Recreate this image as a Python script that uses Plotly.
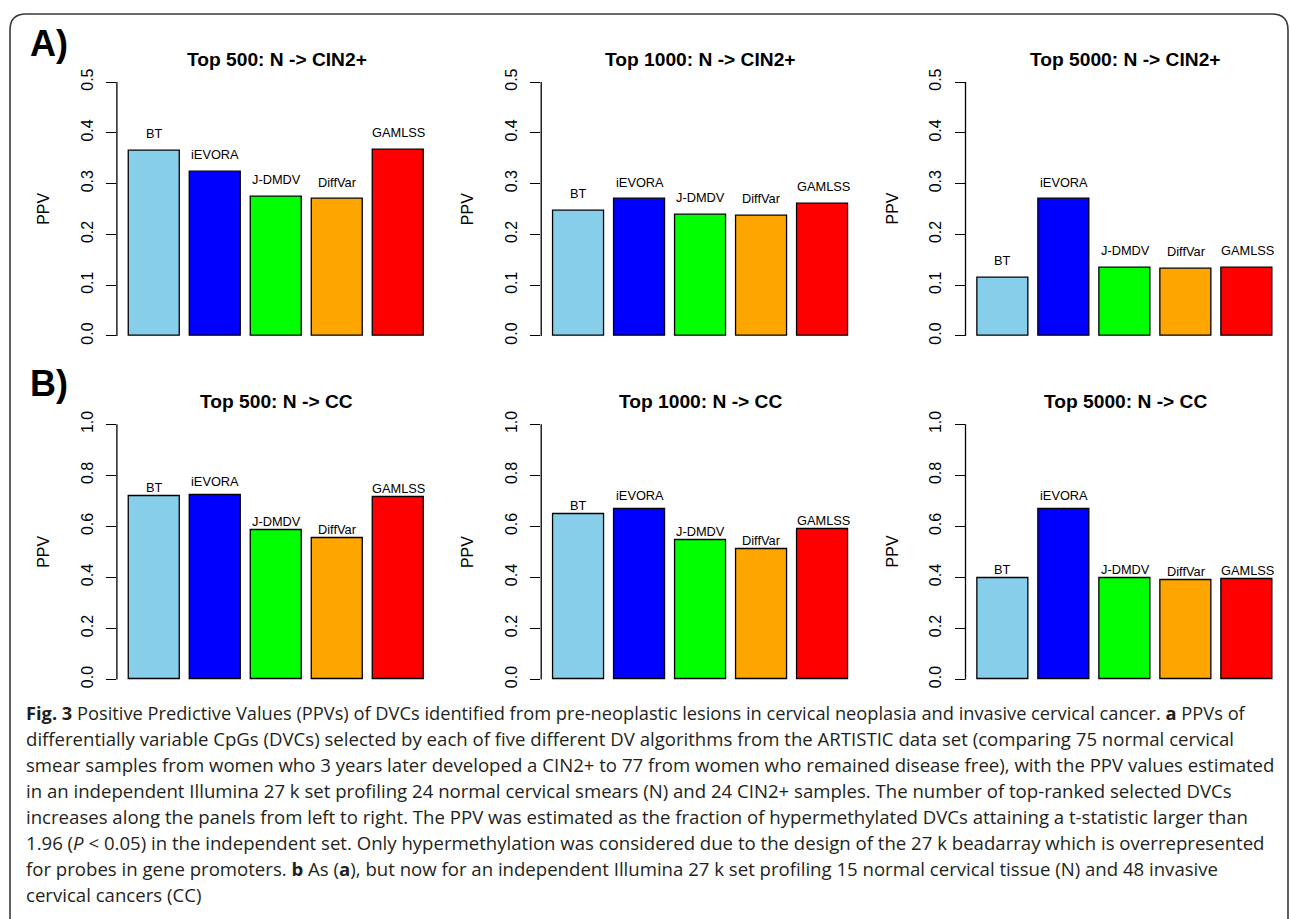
import plotly.graph_objects as go

# ---------------- data ----------------
methods = ["BT", "iEVORA", "J-DMDV", "DiffVar", "GAMLSS"]
bar_colors = ["#87CEEB", "#0000FF", "#00FF00", "#FFA500", "#FF0000"]

titles = [
    "Top 500: N -> CIN2+", "Top 1000: N -> CIN2+", "Top 5000: N -> CIN2+",
    "Top 500: N -> CC", "Top 1000: N -> CC", "Top 5000: N -> CC",
]

ppv_cin_500 = [0.364, 0.323, 0.274, 0.269, 0.366]
ppv_cin_1000 = [0.247, 0.269, 0.238, 0.237, 0.261]
ppv_cin_5000 = [0.115, 0.269, 0.134, 0.133, 0.134]
ppv_cc_500 = [0.718, 0.724, 0.586, 0.553, 0.714]
ppv_cc_1000 = [0.648, 0.668, 0.546, 0.512, 0.589]
ppv_cc_5000 = [0.398, 0.668, 0.397, 0.391, 0.393]

ticks_top = [0.0, 0.1, 0.2, 0.3, 0.4, 0.5]
ticklabels_top = ["0.0", "0.1", "0.2", "0.3", "0.4", "0.5"]
ticks_bottom = [0.0, 0.2, 0.4, 0.6, 0.8, 1.0]
ticklabels_bottom = ["0.0", "0.2", "0.4", "0.6", "0.8", "1.0"]

panel_letters = ["A)", "B)"]

caption_lines = [
    "<b>Fig. 3</b> Positive Predictive Values (PPVs) of DVCs identified from pre-neoplastic lesions in cervical neoplasia and invasive cervical cancer. <b>a</b> PPVs of",
    "differentially variable CpGs (DVCs) selected by each of five different DV algorithms from the ARTISTIC data set (comparing 75 normal cervical",
    "smear samples from women who 3 years later developed a CIN2+ to 77 from women who remained disease free), with the PPV values estimated",
    "in an independent Illumina 27 k set profiling 24 normal cervical smears (N) and 24 CIN2+ samples. The number of top-ranked selected DVCs",
    "increases along the panels from left to right. The PPV was estimated as the fraction of hypermethylated DVCs attaining a t-statistic larger than",
    "1.96 (<i>P</i> &lt; 0.05) in the independent set. Only hypermethylation was considered due to the design of the 27 k beadarray which is overrepresented",
    "for probes in gene promoters. <b>b</b> As (<b>a</b>), but now for an independent Illumina 27 k set profiling 15 normal cervical tissue (N) and 48 invasive",
    "cervical cancers (CC)",
]

# ---------------- layout geometry (pixels) ----------------
W, H = 1290, 919
col_left = [116.9, 541.2, 965.5]
col_width = 319.2
row_top = [69.1, 412.5]
row_bottom = [344.2, 688.9]
row_ymax = [0.5, 1.0]

FONT = "Liberation Sans, Arial, Helvetica, sans-serif"
CAP_FONT = "Open Sans, Noto Sans, sans-serif"
caption_font_sizes = [18.25, 18.6, 18.6, 18.6, 18.6, 18.6, 18.6, 18.6]

panels = [ppv_cin_500, ppv_cin_1000, ppv_cin_5000, ppv_cc_500, ppv_cc_1000, ppv_cc_5000]

fig = go.Figure()
annotations = []
shapes = []
layout = {}

for i, vals in enumerate(panels):
    r, c = divmod(i, 3)
    n = i + 1
    xs = "" if n == 1 else str(n)
    ymax = row_ymax[r]
    fig.add_trace(go.Bar(
        x=methods, y=vals, xaxis="x" + xs, yaxis="y" + xs,
        marker=dict(color=bar_colors, line=dict(color="black", width=1.3)),
        width=1 / 1.2, showlegend=False, hoverinfo="x+y",
    ))
    x0 = col_left[c] / W
    x1 = (col_left[c] + col_width) / W
    y0 = 1 - row_bottom[r] / H
    y1 = 1 - row_top[r] / H
    ext = 0.04 * ymax
    layout["xaxis" + xs] = dict(
        domain=[x0, x1], anchor="y" + xs, range=[-0.61, 4.61],
        visible=False, type="category",
    )
    layout["yaxis" + xs] = dict(
        domain=[y0, y1], anchor="x" + xs, range=[-ext, ymax + ext],
        tickvals=ticks_top if r == 0 else ticks_bottom,
        ticktext=ticklabels_top if r == 0 else ticklabels_bottom,
        tickangle=-90, ticks="outside", ticklen=10, tickwidth=1.3,
        tickcolor="black", showgrid=False, zeroline=False, showline=False,
        tickfont=dict(family=FONT, size=16, color="black"),
        ticklabelstandoff=7,
    )
    # axis line from first to last tick (R style)
    shapes.append(dict(
        type="line", xref="x" + xs + " domain", yref="y" + xs,
        x0=0, x1=0, y0=0, y1=ymax, line=dict(color="black", width=1.3),
    ))
    # title
    annotations.append(dict(
        text="<b>" + titles[i] + "</b>", xref="x" + xs + " domain", yref="y" + xs + " domain",
        x=0.5, y=1, yanchor="middle", yshift=12.5, showarrow=False,
        font=dict(family=FONT, size=19.2, color="black"),
    ))
    # y title
    annotations.append(dict(
        text="PPV", xref="x" + xs + " domain", yref="y" + xs,
        x=0, y=ymax / 2, xshift=-73, textangle=-90, showarrow=False,
        xanchor="center", yanchor="middle",
        font=dict(family=FONT, size=16, color="black"),
    ))
    # bar labels
    for k, (m, v) in enumerate(zip(methods, vals)):
        lift = 0.034
        if r == 1 and m == "iEVORA":
            lift = 0.052
        annotations.append(dict(
            text=m, xref="x" + xs, yref="y" + xs, x=m, y=v + lift,
            showarrow=False, xanchor="center", yanchor="middle",
            font=dict(family=FONT, size=12.8, color="black"),
        ))

# panel letters
for r, letter in enumerate(panel_letters):
    annotations.append(dict(
        text="<b>" + letter + "</b>", xref="paper", yref="paper",
        x=28 / W, y=1 - (41 if r == 0 else 382) / H, xanchor="left", yanchor="middle",
        showarrow=False, font=dict(family=FONT, size=36, color="black"),
    ))

# caption
for j, line in enumerate(caption_lines):
    annotations.append(dict(
        text=line, xref="paper", yref="paper", x=24 / W, y=1 - (712 + 26.1 * j) / H,
        xanchor="left", yanchor="middle", showarrow=False, align="left",
        font=dict(family=CAP_FONT, size=caption_font_sizes[j], color="#231F20"),
    ))

# rounded frame (three visible sides)
fx0, fx1 = 10 / W, 1288 / W
fy_top = 1 - 11 / H
fy_bot = 1 - 940 / H
rx, ry = 16 / W, 16 / H
path = (
    f"M {fx0} {fy_bot} L {fx0} {fy_top - ry} Q {fx0} {fy_top} {fx0 + rx} {fy_top} "
    f"L {fx1 - rx} {fy_top} Q {fx1} {fy_top} {fx1} {fy_top - ry} L {fx1} {fy_bot}"
)
shapes.append(dict(type="path", xref="paper", yref="paper", path=path,
                   line=dict(color="#3a3a3a", width=1.6)))

fig.update_layout(
    width=W, height=H, margin=dict(l=0, r=0, t=0, b=0),
    paper_bgcolor="white", plot_bgcolor="white",
    annotations=annotations, shapes=shapes, bargap=0,
    **layout,
)

fig.write_html("out.html")
